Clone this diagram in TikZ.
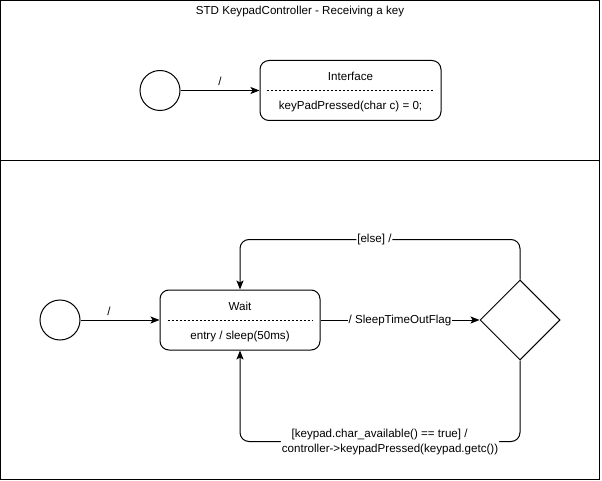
\documentclass[tikz,border=0pt]{standalone}
\usepackage{fontspec}
\setmainfont{Liberation Sans}
\usepackage{xcolor}
\definecolor{std-black}{HTML}{000000}
\definecolor{std-white}{HTML}{FFFFFF}
\usepackage{tikz}
\usetikzlibrary{arrows.meta, shapes.geometric}

\tikzset{
    state-box/.style={draw=std-black, line width=1pt, rounded corners=9, minimum width=160, minimum height=60, inner sep=0},
    start-dot/.style={draw=std-black, line width=1pt, circle, minimum size=40, inner sep=0},
    choice-box/.style={draw=std-black, line width=1pt, diamond, minimum width=80, minimum height=80, inner sep=0},
    std-arrow/.style={draw=std-black, line width=1pt, -{Stealth[length=9pt, width=7pt, inset=2pt]}},
    sep-line/.style={draw=std-black, line width=0.8pt, dash pattern=on 2.5pt off 1.5pt},
    std-label/.style={fill=std-white, inner sep=1pt}
}

\begin{document}
\begin{tikzpicture}[x=1pt, y=-1pt, font=\fontsize{11.6}{15}\selectfont]

    \useasboundingbox (0, 0) rectangle (602, 481);

    % Frame
    \draw[line width=1pt] (0.5, 0.5) rectangle (599.5, 479.5);
    \draw[line width=1pt] (0.5, 160.5) -- (599.5, 160.5);
    \node (title) at (300, 12) {STD KeypadController - Receiving a key};

    % Interface
    \node[start-dot] (start1) at (160, 90.5) {};
    \node[state-box, minimum width=181] (iface) at (350.5, 90.5) {};
    \node (ifacename) at (350.5, 76) {Interface};
    \node (ifacebody) at (350.5, 107) {keyPadPressed(char c) = 0;};
    \draw[sep-line] ([xshift=7]iface.west) -- ([xshift=-7]iface.east);
    \draw[std-arrow] (start1) -- (iface.west) node[midway, above=1pt] {/};

    % Receiving
    \node[start-dot] (start2) at (60, 320) {};
    \node[state-box] (wait) at (240, 320) {};
    \node (waitname) at (240, 306) {Wait};
    \node (waitbody) at (240, 336) {entry / sleep(50ms)};
    \draw[sep-line] ([xshift=8]wait.west) -- ([xshift=-8]wait.east);
    \node[choice-box] (choice) at (520, 320) {};

    \draw[std-arrow] (start2) -- (wait.west) node[pos=0.36, above=1pt] {/};
    \draw[std-arrow] (wait.east) -- (choice.west) node[midway, std-label] {/ SleepTimeOutFlag};
    \draw[std-arrow, rounded corners=9] (choice.north) -- ++(0, -40) -| (wait.north)
        node[pos=0.26, std-label] {[else] /};
    \draw[std-arrow, rounded corners=9] (choice.south) -- ++(0, 81) -| (wait.south)
        node[pos=0.232, std-label, align=center] {[keypad.char\_available() == true] /\hspace*{21pt}\\controller->keypadPressed(keypad.getc())};

\end{tikzpicture}
\end{document}
